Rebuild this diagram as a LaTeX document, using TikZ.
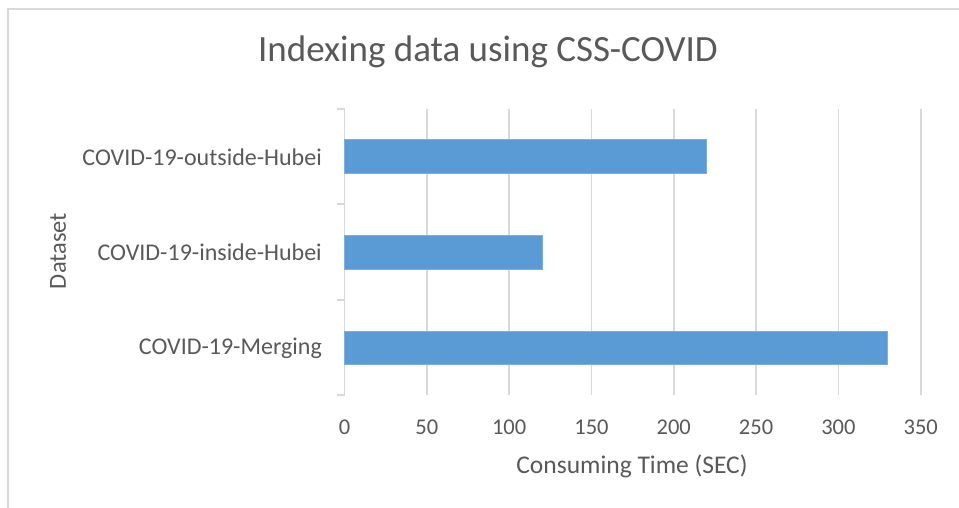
\documentclass[tikz,border=0pt]{standalone}
\usepackage{fontspec}
\setmainfont{Carlito}
\usetikzlibrary{calc}
\definecolor{barblue}{HTML}{5B9BD5}
\definecolor{gridgray}{HTML}{D9D9D9}
\definecolor{txtgray}{HTML}{595959}

\begin{document}
\begin{tikzpicture}[x=1pt, y=-1pt]
            \tikzstyle{frame} = [gridgray, line width=1.5pt]
            \tikzstyle{grid} = [gridgray, line width=1.6pt]
            \tikzstyle{bar} = [fill=barblue, draw=barblue!80!white, line width=0.6pt]
            \tikzstyle{ticklabel} = [txtgray, font=\fontsize{22.5}{25}\selectfont]
            \tikzstyle{catlabel} = [txtgray, font=\fontsize{24}{27}\selectfont, anchor=east, inner sep=0pt]
            \useasboundingbox (0, 0) rectangle (959, 508);
            \fill[white] (0, 0) rectangle (959, 508);
            \draw[frame] (8, 508) -- (8, 9) -- (959, 9);
            % title
            \node[txtgray, font=\fontsize{37}{40}\selectfont] (title) at (488, 52) {Indexing data using CSS-COVID};
            % vertical gridlines and value labels
            \foreach \v in {50, 100, ..., 350}
                \draw[grid] ({344.5 + \v*1.6463}, 109) -- ({344.5 + \v*1.6463}, 395);
            \foreach \v in {0, 50, ..., 350}
                \node[ticklabel] (tick\v) at ({344.5 + \v*1.6463}, 427) {\v};
            % category axis
            \draw[gridgray, line width=1.3pt] (344.5, 109) -- (344.5, 395);
            \foreach \y in {109, 204, 300, 395}
                \draw[gridgray, line width=1.3pt] (337, \y) -- (344.5, \y);
            % bars
            \draw[bar] (344.5, 139) rectangle ({344.5 + 220*1.6463}, 173);
            \draw[bar] (344.5, 235) rectangle ({344.5 + 120*1.6463}, 269);
            \draw[bar] (344.5, 331) rectangle ({344.5 + 330*1.6463}, 364);
            \node[catlabel] (outside) at (322, 157) {COVID-19-outside-Hubei};
            \node[catlabel] (inside) at (322, 252) {COVID-19-inside-Hubei};
            \node[catlabel] (merging) at (322, 348) {COVID-19-Merging};
            % axis titles
            \node[txtgray, font=\fontsize{24.5}{27}\selectfont, rotate=90] (ylabel) at (58, 251) {Dataset};
            \node[txtgray, font=\fontsize{25.5}{28}\selectfont] (xlabel) at (632, 466) {Consuming Time (SEC)};
        \end{tikzpicture}
\end{document}
